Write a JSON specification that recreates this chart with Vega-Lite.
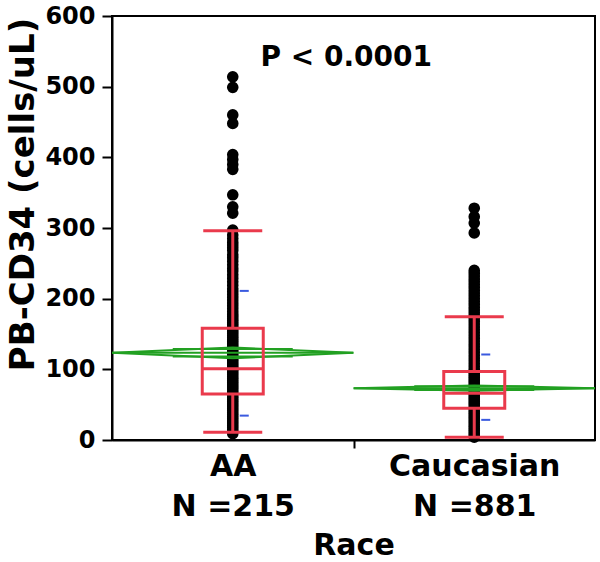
{
  "$schema": "https://vega.github.io/schema/vega-lite/v6.json",
  "autosize": {"type": "none"},
  "width": 483,
  "height": 424,
  "padding": {"left": 112, "top": 16, "right": 5, "bottom": 122},
  "background": "white",
  "config": {"view": {"stroke": "black", "strokeWidth": 2}, "font": "DejaVu Sans"},
  "datasets": {
    "points": [
      {"race": "AA", "value": 514}, {"race": "AA", "value": 499}, {"race": "AA", "value": 460}, {"race": "AA", "value": 448},
      {"race": "AA", "value": 404}, {"race": "AA", "value": 397}, {"race": "AA", "value": 390}, {"race": "AA", "value": 383},
      {"race": "AA", "value": 347}, {"race": "AA", "value": 330}, {"race": "AA", "value": 321}, {"race": "AA", "value": 297},
      {"race": "AA", "value": 290}, {"race": "AA", "value": 285}, {"race": "AA", "value": 280}, {"race": "AA", "value": 276},
      {"race": "AA", "value": 272}, {"race": "AA", "value": 268}, {"race": "AA", "value": 262}, {"race": "AA", "value": 258},
      {"race": "AA", "value": 253}, {"race": "AA", "value": 248}, {"race": "AA", "value": 243}, {"race": "AA", "value": 239},
      {"race": "AA", "value": 234}, {"race": "AA", "value": 229}, {"race": "AA", "value": 224}, {"race": "AA", "value": 219},
      {"race": "AA", "value": 214}, {"race": "AA", "value": 210}, {"race": "AA", "value": 206}, {"race": "AA", "value": 202},
      {"race": "AA", "value": 198}, {"race": "AA", "value": 194}, {"race": "AA", "value": 190}, {"race": "AA", "value": 186},
      {"race": "AA", "value": 182}, {"race": "AA", "value": 178}, {"race": "AA", "value": 175}, {"race": "AA", "value": 172},
      {"race": "AA", "value": 169}, {"race": "AA", "value": 166}, {"race": "AA", "value": 163}, {"race": "AA", "value": 160},
      {"race": "AA", "value": 157}, {"race": "AA", "value": 154}, {"race": "AA", "value": 151}, {"race": "AA", "value": 148},
      {"race": "AA", "value": 145}, {"race": "AA", "value": 142}, {"race": "AA", "value": 139}, {"race": "AA", "value": 136},
      {"race": "AA", "value": 133}, {"race": "AA", "value": 130}, {"race": "AA", "value": 127}, {"race": "AA", "value": 124},
      {"race": "AA", "value": 121}, {"race": "AA", "value": 118}, {"race": "AA", "value": 115}, {"race": "AA", "value": 112},
      {"race": "AA", "value": 109}, {"race": "AA", "value": 106}, {"race": "AA", "value": 103}, {"race": "AA", "value": 101},
      {"race": "AA", "value": 99}, {"race": "AA", "value": 96}, {"race": "AA", "value": 93}, {"race": "AA", "value": 90},
      {"race": "AA", "value": 87}, {"race": "AA", "value": 84}, {"race": "AA", "value": 81}, {"race": "AA", "value": 78},
      {"race": "AA", "value": 75}, {"race": "AA", "value": 72}, {"race": "AA", "value": 69}, {"race": "AA", "value": 66},
      {"race": "AA", "value": 63}, {"race": "AA", "value": 60}, {"race": "AA", "value": 57}, {"race": "AA", "value": 54},
      {"race": "AA", "value": 51}, {"race": "AA", "value": 48}, {"race": "AA", "value": 45}, {"race": "AA", "value": 42},
      {"race": "AA", "value": 39}, {"race": "AA", "value": 36}, {"race": "AA", "value": 33}, {"race": "AA", "value": 30},
      {"race": "AA", "value": 27}, {"race": "AA", "value": 24}, {"race": "AA", "value": 21}, {"race": "AA", "value": 18},
      {"race": "AA", "value": 15}, {"race": "AA", "value": 12}, {"race": "AA", "value": 9},
      {"race": "Caucasian", "value": 328}, {"race": "Caucasian", "value": 316}, {"race": "Caucasian", "value": 307}, {"race": "Caucasian", "value": 293},
      {"race": "Caucasian", "value": 240}, {"race": "Caucasian", "value": 236}, {"race": "Caucasian", "value": 232}, {"race": "Caucasian", "value": 228},
      {"race": "Caucasian", "value": 224}, {"race": "Caucasian", "value": 220}, {"race": "Caucasian", "value": 216}, {"race": "Caucasian", "value": 212},
      {"race": "Caucasian", "value": 208}, {"race": "Caucasian", "value": 204}, {"race": "Caucasian", "value": 200}, {"race": "Caucasian", "value": 196},
      {"race": "Caucasian", "value": 192}, {"race": "Caucasian", "value": 188}, {"race": "Caucasian", "value": 184}, {"race": "Caucasian", "value": 180},
      {"race": "Caucasian", "value": 176}, {"race": "Caucasian", "value": 172}, {"race": "Caucasian", "value": 168}, {"race": "Caucasian", "value": 164},
      {"race": "Caucasian", "value": 160}, {"race": "Caucasian", "value": 156}, {"race": "Caucasian", "value": 152}, {"race": "Caucasian", "value": 148},
      {"race": "Caucasian", "value": 144}, {"race": "Caucasian", "value": 140}, {"race": "Caucasian", "value": 136}, {"race": "Caucasian", "value": 132},
      {"race": "Caucasian", "value": 128}, {"race": "Caucasian", "value": 124}, {"race": "Caucasian", "value": 120}, {"race": "Caucasian", "value": 116},
      {"race": "Caucasian", "value": 112}, {"race": "Caucasian", "value": 108}, {"race": "Caucasian", "value": 104}, {"race": "Caucasian", "value": 100},
      {"race": "Caucasian", "value": 97}, {"race": "Caucasian", "value": 94}, {"race": "Caucasian", "value": 91}, {"race": "Caucasian", "value": 88},
      {"race": "Caucasian", "value": 85}, {"race": "Caucasian", "value": 82}, {"race": "Caucasian", "value": 79}, {"race": "Caucasian", "value": 76},
      {"race": "Caucasian", "value": 73}, {"race": "Caucasian", "value": 70}, {"race": "Caucasian", "value": 67}, {"race": "Caucasian", "value": 64},
      {"race": "Caucasian", "value": 61}, {"race": "Caucasian", "value": 58}, {"race": "Caucasian", "value": 55}, {"race": "Caucasian", "value": 52},
      {"race": "Caucasian", "value": 49}, {"race": "Caucasian", "value": 46}, {"race": "Caucasian", "value": 43}, {"race": "Caucasian", "value": 40},
      {"race": "Caucasian", "value": 37}, {"race": "Caucasian", "value": 34}, {"race": "Caucasian", "value": 31}, {"race": "Caucasian", "value": 28},
      {"race": "Caucasian", "value": 25}, {"race": "Caucasian", "value": 22}, {"race": "Caucasian", "value": 19}, {"race": "Caucasian", "value": 16},
      {"race": "Caucasian", "value": 13}, {"race": "Caucasian", "value": 10}, {"race": "Caucasian", "value": 7}, {"race": "Caucasian", "value": 4}
    ],
    "stats": [
      {"race": "AA", "lo": 11, "q1": 65, "med": 101, "q3": 158, "hi": 296, "mean": 123.3, "sdlo": 34.5, "sdhi": 211, "ovlo": 118, "ovhi": 128.6},
      {"race": "Caucasian", "lo": 4, "q1": 45, "med": 66, "q3": 97, "hi": 174.5, "mean": 73.3, "sdlo": 28.5, "sdhi": 121, "ovlo": 70.7, "ovhi": 75.9}
    ],
    "diamond": [
      {"race": "AA", "v": "L", "value": 123.3, "k": 0},
      {"race": "AA", "v": "C", "value": 130.8, "k": 1},
      {"race": "AA", "v": "R", "value": 123.3, "k": 2},
      {"race": "AA", "v": "C", "value": 115.8, "k": 3},
      {"race": "AA", "v": "L", "value": 123.3, "k": 4},
      {"race": "Caucasian", "v": "L", "value": 73.3, "k": 0},
      {"race": "Caucasian", "v": "C", "value": 77.0, "k": 1},
      {"race": "Caucasian", "v": "R", "value": 73.3, "k": 2},
      {"race": "Caucasian", "v": "C", "value": 69.6, "k": 3},
      {"race": "Caucasian", "v": "L", "value": 73.3, "k": 4}
    ]
  },
  "encoding": {
    "x": {
      "field": "race",
      "type": "nominal",
      "scale": {"domain": ["AA", "Caucasian"], "paddingInner": 0, "paddingOuter": 0},
      "axis": {
        "title": "Race",
        "labelExpr": "datum.value === 'AA' ? ['AA', 'N =215'] : (datum.value === 'Caucasian' ? ['Caucasian', 'N =881'] : '')",
        "labelFont": "DejaVu Sans",
        "labelFontSize": 30,
        "labelFontWeight": "bold",
        "labelColor": "black",
        "labelAngle": 0,
        "labelLineHeight": 40,
        "labelPadding": 3,
        "labelBaseline": "top",
        "labelOverlap": false,
        "labelBound": false,
        "tickBand": "extent",
        "tickSize": 8,
        "tickColor": "black",
        "tickWidth": 2,
        "tickOpacity": {"condition": {"test": "datum.value === 'AA'", "value": 1}, "value": 0},
        "domainColor": "black",
        "domainWidth": 2,
        "titleFont": "DejaVu Sans",
        "titleFontSize": 30,
        "titleFontWeight": "bold",
        "titleColor": "black",
        "titleBaseline": "alphabetic",
        "titleY": 114
      }
    }
  },
  "layer": [
    {
      "data": {"name": "points"},
      "mark": {"type": "circle", "color": "black", "opacity": 1, "size": 135},
      "encoding": {
        "y": {
          "field": "value",
          "type": "quantitative",
          "scale": {"domain": [0, 600], "nice": false},
          "axis": {
            "title": "PB-CD34 (cells/uL)",
            "values": [0, 50, 100, 150, 200, 250, 300, 350, 400, 450, 500, 550, 600],
            "labelExpr": "datum.value % 100 === 0 ? datum.label : ''",
            "tickSize": {"condition": {"test": "datum.value % 100 === 0", "value": 10}, "value": 5},
            "tickColor": "black",
            "tickWidth": 2,
            "domainColor": "black",
            "domainWidth": 2,
            "grid": false,
            "labelFont": "DejaVu Sans",
            "labelFontSize": 24,
            "labelFontWeight": "bold",
            "labelColor": "black",
            "labelPadding": 7,
            "labelOverlap": false,
            "labelBound": false,
            "titleFont": "DejaVu Sans",
            "titleFontSize": 34,
            "titleFontWeight": "bold",
            "titleColor": "black",
            "titleAngle": 270,
            "titleBaseline": "alphabetic",
            "titleAlign": "center",
            "titleX": -79,
            "titleY": 178
          }
        }
      }
    },
    {
      "data": {"name": "diamond"},
      "mark": {"type": "line", "color": "#22a022", "strokeWidth": 2},
      "encoding": {
        "xOffset": {"field": "v", "type": "nominal", "scale": {"type": "point", "domain": ["L", "C", "R"], "padding": 0}},
        "y": {"field": "value", "type": "quantitative"},
        "detail": {"field": "race"},
        "order": {"field": "k", "type": "quantitative"}
      }
    },
    {
      "data": {"name": "stats"},
      "mark": {"type": "tick", "color": "#22a022", "opacity": 1, "size": 241, "thickness": 2},
      "encoding": {"y": {"field": "mean", "type": "quantitative"}}
    },
    {
      "data": {"name": "stats"},
      "mark": {"type": "tick", "color": "#22a022", "opacity": 1, "size": 120, "thickness": 2},
      "encoding": {"y": {"field": "ovlo", "type": "quantitative"}}
    },
    {
      "data": {"name": "stats"},
      "mark": {"type": "tick", "color": "#22a022", "opacity": 1, "size": 120, "thickness": 2},
      "encoding": {"y": {"field": "ovhi", "type": "quantitative"}}
    },
    {
      "data": {"name": "stats"},
      "mark": {"type": "rule", "color": "#ea3a4c", "strokeWidth": 3},
      "encoding": {"y": {"field": "q3", "type": "quantitative"}, "y2": {"field": "hi"}}
    },
    {
      "data": {"name": "stats"},
      "mark": {"type": "rule", "color": "#ea3a4c", "strokeWidth": 3},
      "encoding": {"y": {"field": "lo", "type": "quantitative"}, "y2": {"field": "q1"}}
    },
    {
      "data": {"name": "stats"},
      "mark": {"type": "tick", "color": "#ea3a4c", "opacity": 1, "size": 59, "thickness": 3},
      "encoding": {"y": {"field": "hi", "type": "quantitative"}}
    },
    {
      "data": {"name": "stats"},
      "mark": {"type": "tick", "color": "#ea3a4c", "opacity": 1, "size": 59, "thickness": 3},
      "encoding": {"y": {"field": "lo", "type": "quantitative"}}
    },
    {
      "data": {"name": "stats"},
      "mark": {"type": "bar", "fillOpacity": 0, "stroke": "#ea3a4c", "strokeWidth": 3, "width": 61},
      "encoding": {"y": {"field": "q1", "type": "quantitative"}, "y2": {"field": "q3"}}
    },
    {
      "data": {"name": "stats"},
      "mark": {"type": "tick", "color": "#ea3a4c", "opacity": 1, "size": 61, "thickness": 3},
      "encoding": {"y": {"field": "med", "type": "quantitative"}}
    },
    {
      "data": {"name": "stats"},
      "mark": {"type": "tick", "color": "#3a5adf", "opacity": 1, "size": 9, "thickness": 2, "xOffset": 11.5},
      "encoding": {"y": {"field": "sdhi", "type": "quantitative"}}
    },
    {
      "data": {"name": "stats"},
      "mark": {"type": "tick", "color": "#3a5adf", "opacity": 1, "size": 9, "thickness": 2, "xOffset": 11.5},
      "encoding": {"y": {"field": "sdlo", "type": "quantitative"}}
    },
    {
      "data": {"values": [{"label": "P < 0.0001"}]},
      "mark": {"type": "text", "font": "DejaVu Sans", "fontSize": 28, "fontWeight": "bold", "color": "black", "align": "center", "baseline": "alphabetic", "xOffset": -128},
      "encoding": {
        "x": {"datum": "Caucasian"},
        "y": {"datum": 529},
        "text": {"field": "label"}
      }
    }
  ]
}
